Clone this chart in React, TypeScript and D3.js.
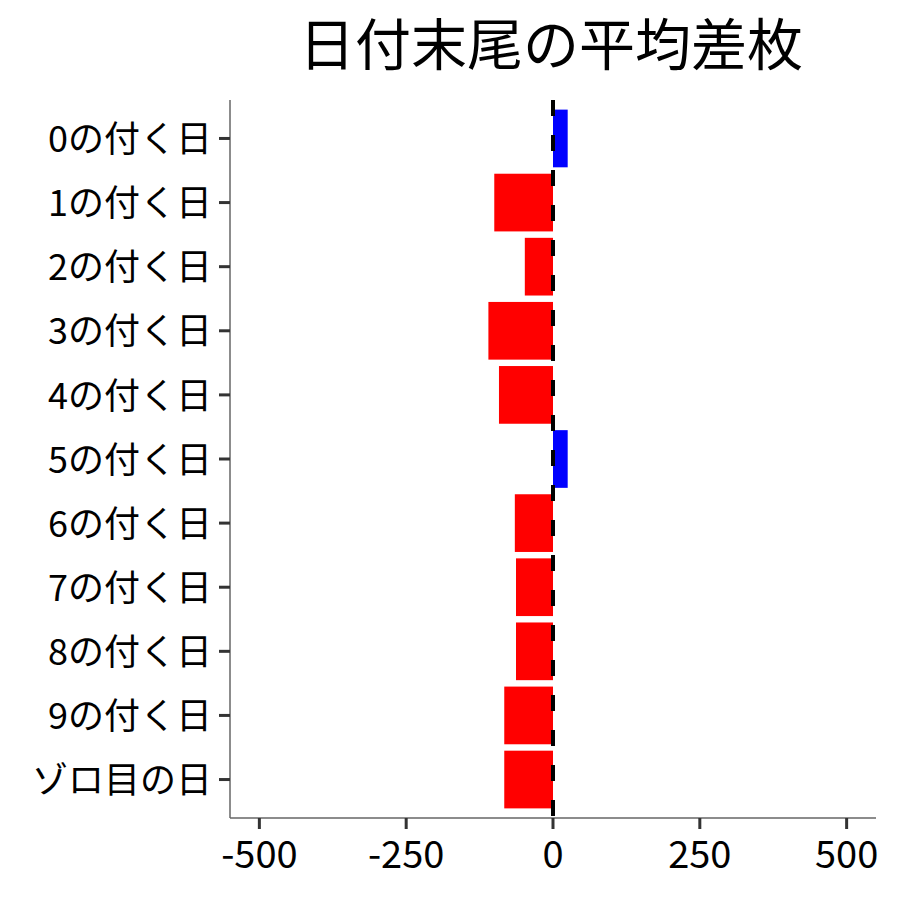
import * as d3 from 'd3';

const categories = [
  '0の付く日', '1の付く日', '2の付く日', '3の付く日', '4の付く日', '5の付く日',
  '6の付く日', '7の付く日', '8の付く日', '9の付く日', 'ゾロ目の日',
];
const diffValues = [25, -100, -48, -110, -92, 25, -65, -63, -63, -83, -83];
const xTicks = [-500, -250, 0, 250, 500];
const title = '日付末尾の平均差枚';

const FONT = '"Noto Sans CJK JP", "Noto Sans", sans-serif';

function App() {
  const width = 900;
  const height = 900;
  const margin = { top: 100, right: 24, bottom: 82, left: 230 };

  const xScale = d3
    .scaleLinear()
    .domain([-550, 550])
    .range([margin.left, width - margin.right]);

  const yScale = d3
    .scaleBand<string>()
    .domain(categories)
    .range([margin.top, height - margin.bottom])
    .paddingInner(0.1)
    .paddingOuter(0.15);

  const data = categories.map((c, i) => ({ cat: c, value: diffValues[i] }));
  const bottom = height - margin.bottom;

  return (
    <svg
      width={width}
      height={height}
      style={{ position: 'absolute', left: 0, top: 0, background: '#fff' }}
      fontFamily={FONT}
    >
      <text x={551} y={65} textAnchor="middle" fontSize={56} fill="#000">
        {title}
      </text>

      {data.map((d) => (
        <rect
          key={d.cat}
          x={Math.min(xScale(0), xScale(d.value))}
          y={yScale(d.cat)}
          width={Math.abs(xScale(d.value) - xScale(0))}
          height={yScale.bandwidth()}
          fill={d.value >= 0 ? '#0000ff' : '#ff0000'}
        />
      ))}

      <line
        x1={xScale(0)}
        x2={xScale(0)}
        y1={margin.top}
        y2={bottom}
        stroke="#000"
        strokeWidth={4}
        strokeDasharray="16,19"
      />

      <line x1={margin.left} x2={margin.left} y1={margin.top} y2={bottom} stroke="#666" strokeWidth={1.5} />
      <line x1={margin.left} x2={width - margin.right} y1={bottom} y2={bottom} stroke="#666" strokeWidth={1.5} />

      {categories.map((c) => {
        const y = (yScale(c) ?? 0) + yScale.bandwidth() / 2;
        return (
          <g key={c}>
            <line x1={margin.left - 11} x2={margin.left} y1={y} y2={y} stroke="#333" strokeWidth={3} />
            <text x={margin.left - 18} y={y} dy="0.38em" textAnchor="end" fontSize={36} fill="#000">
              {c}
            </text>
          </g>
        );
      })}

      {xTicks.map((t) => (
        <g key={t}>
          <line x1={xScale(t)} x2={xScale(t)} y1={bottom} y2={bottom + 11} stroke="#333" strokeWidth={3} />
          <text x={xScale(t)} y={bottom + 50} textAnchor="middle" fontSize={38} fill="#000">
            {t}
          </text>
        </g>
      ))}
    </svg>
  );
}

export default App;
